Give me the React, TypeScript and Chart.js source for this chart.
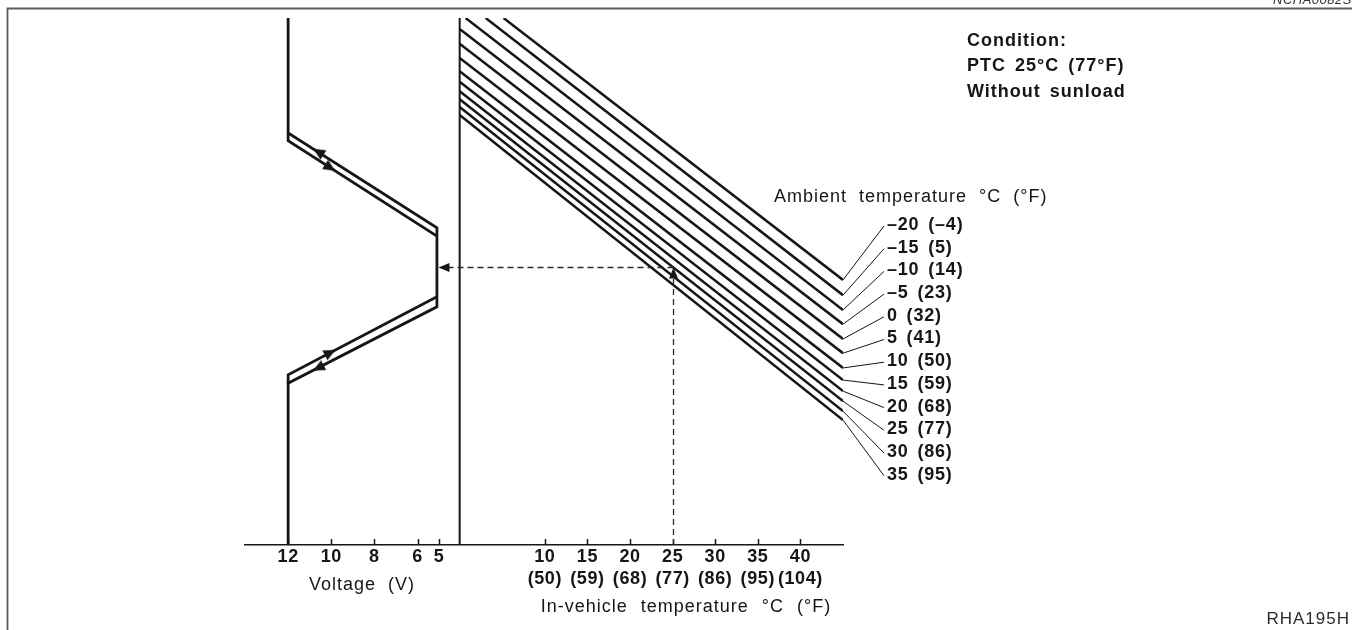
import React, { useEffect, useRef } from "react";
import { Chart, registerables } from "chart.js";

Chart.register(...registerables);

const FONT = "'Liberation Sans', Arial, Helvetica, sans-serif";
const INK = "#161616";

// ---- Axis tick labels ----
const voltageTicks = [12, 10, 8, 6, 5];
const inVehicleTicksC = [10, 15, 20, 25, 30, 35, 40];
const inVehicleTicksF = ["(50)", "(59)", "(68)", "(77)", "(86)", "(95)", "(104)"];

// ---- Ambient temperature lines (in-vehicle °C  ->  level) ----
const ambientLabels = [
  "–20 (–4)", "–15 (5)", "–10 (14)", "–5 (23)", "0 (32)", "5 (41)",
  "10 (50)", "15 (59)", "20 (68)", "25 (77)", "30 (86)", "35 (95)",
];
const ambientStartC = [5.15, 3.05, 0.7, 0, 0, 0, 0, 0, 0, 0, 0, 0];
const ambientStartLevel = [100, 100, 100, 97.9, 95.1, 92.4, 89.9, 87.9, 86.1, 84.6, 83.1, 81.6];
const ambientEndC = [45, 45, 45, 45, 45, 45, 45, 45, 45, 45, 45, 45];
const ambientEndLevel = [50.3, 47.4, 44.6, 41.9, 39.1, 36.4, 33.6, 31.3, 29.2, 27.3, 25.4, 23.7];

// ---- Fan voltage hysteresis (voltage V -> level) ----
const fanOuterV = [12, 12, 5.1, 5.1, 12, 12];
const fanOuterLevel = [100, 78.2, 60.2, 45.2, 30.7, 0];
const fanUpperInnerV = [12, 12, 5.1];
const fanUpperInnerLevel = [78.2, 76.7, 58.6];
const fanLowerInnerV = [5.1, 12, 12];
const fanLowerInnerLevel = [47.1, 32.3, 30.7];
const arrowV = [10.6, 10.05, 10.05, 10.6];
const arrowLevel = [74.6, 71.6, 36.5, 33.6];
const arrowAngle = [-57.5, 122.5, 62.4, 242.4];

// ---- Example reading ----
const exampleInVehicleC = 25;
const exampleAmbientIndex = 9;
const exampleVoltage = 5.1;

const conditionLines = ["Condition:", "PTC 25°C (77°F)", "Without sunload"];

function drawText(ctx: any, s: string, x: number, y: number, o: any) {
  ctx.save();
  ctx.font = `${o.style || "normal"} ${o.weight || "normal"} ${o.size}px ${FONT}`;
  ctx.fillStyle = o.color || INK;
  ctx.textAlign = o.align || "left";
  ctx.textBaseline = o.baseline || "middle";
  ctx.letterSpacing = (o.ls ?? 1) + "px";
  ctx.wordSpacing = (o.ws ?? 0) + "px";
  ctx.fillText(s, x, y);
  ctx.restore();
}

function arrowHead(ctx: any, tx: number, ty: number, dx: number, dy: number, len: number, half: number) {
  const bx = tx - dx * len;
  const by = ty - dy * len;
  const px = -dy;
  const py = dx;
  ctx.beginPath();
  ctx.moveTo(tx, ty);
  ctx.lineTo(bx + px * half, by + py * half);
  ctx.lineTo(bx - px * half, by - py * half);
  ctx.closePath();
  ctx.fill();
}

function makeArrowCanvas(len: number, width: number) {
  const c = document.createElement("canvas");
  c.width = width;
  c.height = len;
  const g = c.getContext("2d")!;
  g.fillStyle = INK;
  g.beginPath();
  g.moveTo(width / 2, 0);
  g.lineTo(width, len);
  g.lineTo(0, len);
  g.closePath();
  g.fill();
  return c;
}

const overlayPlugin = {
  id: "overlay",
  beforeDraw(chart: any) {
    chart.ctx.letterSpacing = "0.6px";
  },
  afterDraw(chart: any) {
    const ctx = chart.ctx;
    ctx.letterSpacing = "0px";
    const xT = chart.scales.xT;
    const xV = chart.scales.xV;
    const y = chart.scales.y;
    const base = xT.top;

    // frame
    ctx.save();
    ctx.strokeStyle = "#5c5c5c";
    ctx.lineWidth = 1.8;
    ctx.beginPath();
    ctx.moveTo(7.5, 630);
    ctx.lineTo(7.5, 8.5);
    ctx.lineTo(1352, 8.5);
    ctx.stroke();
    ctx.restore();
    drawText(ctx, "NCHA0082S0", 1273, 4, { size: 13, style: "italic", baseline: "alphabetic", ls: 0.5, color: "#333" });

    // inward tick marks
    ctx.save();
    ctx.strokeStyle = INK;
    ctx.lineWidth = 1.5;
    ctx.beginPath();
    xT.ticks.forEach((t: any) => {
      const px = Math.round(xT.getPixelForValue(t.value)) + 0.5;
      ctx.moveTo(px, base);
      ctx.lineTo(px, base - 6);
    });
    voltageTicks.forEach((v) => {
      const px = Math.round(xV.getPixelForValue(v)) + 0.5;
      ctx.moveTo(px, base);
      ctx.lineTo(px, base - 6);
    });
    ctx.stroke();
    ctx.restore();

    // voltage tick labels and title
    voltageTicks.forEach((v) => {
      drawText(ctx, String(v), xV.getPixelForValue(v), base + 12, { size: 18, weight: "bold", align: "center", ls: 0.6 });
    });
    drawText(ctx, "Voltage (V)", 362, base + 40, { size: 18, align: "center", ls: 1, ws: 6 });
    drawText(ctx, "In-vehicle temperature °C (°F)", 686, base + 62, { size: 18, align: "center", ls: 1, ws: 7 });

    // ambient legend with leader lines
    drawText(ctx, "Ambient temperature °C (°F)", 774, 197, { size: 18, ls: 1, ws: 6 });
    ambientLabels.forEach((lab, i) => {
      const ly = 225 + i * 22.7;
      const ex = xT.getPixelForValue(ambientEndC[i]);
      const ey = y.getPixelForValue(ambientEndLevel[i]);
      ctx.save();
      ctx.strokeStyle = INK;
      ctx.lineWidth = 1;
      ctx.beginPath();
      ctx.moveTo(ex, ey);
      ctx.lineTo(884, ly + 1);
      ctx.stroke();
      ctx.restore();
      drawText(ctx, lab, 887, ly, { size: 18, weight: "bold", ls: 0.8, ws: 3 });
    });

    // condition block
    conditionLines.forEach((s, i) => {
      drawText(ctx, s, 967, 41 + i * 25.5, { size: 18, weight: "bold", ls: 1, ws: 3 });
    });
    drawText(ctx, "RHA195H", 1350, 619, { size: 17, align: "right", ls: 1, color: "#2a2a2a" });

    // example reading: dashed pointer
    const i = exampleAmbientIndex;
    const frac = (exampleInVehicleC - ambientStartC[i]) / (ambientEndC[i] - ambientStartC[i]);
    const level = ambientStartLevel[i] + (ambientEndLevel[i] - ambientStartLevel[i]) * frac;
    const py = Math.round(y.getPixelForValue(level)) + 0.5;
    const px25 = Math.round(xT.getPixelForValue(exampleInVehicleC)) + 0.5;
    const pxV = xV.getPixelForValue(exampleVoltage) + 1.5;
    ctx.save();
    ctx.strokeStyle = "#2a2a2a";
    ctx.fillStyle = INK;
    ctx.lineWidth = 1.3;
    ctx.setLineDash([6, 4]);
    ctx.beginPath();
    ctx.moveTo(px25, py);
    ctx.lineTo(pxV + 10, py);
    ctx.moveTo(px25, base);
    ctx.lineTo(px25, py + 10);
    ctx.stroke();
    ctx.setLineDash([]);
    arrowHead(ctx, pxV, py, -1, 0, 11, 4.5);
    arrowHead(ctx, px25, py, 0, -1, 11, 4.5);
    ctx.restore();
  },
};

export default function App() {
  const ref = useRef<HTMLCanvasElement | null>(null);

  useEffect(() => {
    if (!ref.current) return;
    const arrowImg = makeArrowCanvas(12, 11);
    const datasets: any[] = [];

    ambientLabels.forEach((lab, i) => {
      datasets.push({
        label: lab,
        xAxisID: "xT",
        yAxisID: "y",
        data: [
          { x: ambientStartC[i], y: ambientStartLevel[i] },
          { x: ambientEndC[i], y: ambientEndLevel[i] },
        ],
        showLine: true,
        borderColor: INK,
        borderWidth: 2.5,
        pointRadius: 0,
      });
    });

    datasets.push({
      label: "separator",
      xAxisID: "xT",
      yAxisID: "y",
      data: [{ x: 0, y: 0 }, { x: 0, y: 100 }],
      showLine: true,
      borderColor: INK,
      borderWidth: 2,
      pointRadius: 0,
    });

    const fanSets = [
      [fanOuterV, fanOuterLevel],
      [fanUpperInnerV, fanUpperInnerLevel],
      [fanLowerInnerV, fanLowerInnerLevel],
    ];
    fanSets.forEach(([vs, ls], k) => {
      datasets.push({
        label: "fan" + k,
        xAxisID: "xV",
        yAxisID: "y",
        data: vs.map((v, j) => ({ x: v, y: ls[j] })),
        showLine: true,
        borderColor: INK,
        borderWidth: 2.8,
        borderJoinStyle: "miter",
        pointRadius: 0,
      });
    });

    datasets.push({
      label: "arrows",
      xAxisID: "xV",
      yAxisID: "y",
      data: arrowV.map((v, j) => ({ x: v, y: arrowLevel[j] })),
      showLine: false,
      pointStyle: arrowImg,
      pointRotation: arrowAngle,
      pointRadius: 6,
    });

    const chart = new Chart(ref.current, {
      type: "scatter",
      data: { datasets },
      options: {
        responsive: false,
        animation: false,
        events: [],
        layout: { padding: { left: 245, right: 1352 - 843, top: 18, bottom: 0 } },
        plugins: { legend: { display: false }, tooltip: { enabled: false } },
        scales: {
          xT: {
            type: "linear",
            position: "bottom",
            min: -25.2,
            max: 45,
            afterBuildTicks: (s: any) => {
              s.ticks = inVehicleTicksC.map((v) => ({ value: v }));
            },
            afterFit: (s: any) => {
              s.height = 85;
            },
            grid: { display: false, drawTicks: false },
            border: { display: true, color: INK, width: 1.5 },
            ticks: {
              autoSkip: false,
              maxRotation: 0,
              padding: 1,
              color: INK,
              font: { family: FONT, size: 18, weight: "bold", lineHeight: 1.22 },
              callback: (_v: any, idx: number) => [String(inVehicleTicksC[idx]), inVehicleTicksF[idx]],
            },
          },
          xV: {
            type: "linear",
            display: false,
            reverse: true,
            min: -13.73,
            max: 14,
          },
          y: {
            type: "linear",
            display: false,
            min: 0,
            max: 100,
          },
        },
      } as any,
      plugins: [overlayPlugin],
    });
    return () => chart.destroy();
  }, []);

  return (
    <div style={{ position: "fixed", left: 0, top: 0, width: 1352, height: 630, background: "#fff" }}>
      <canvas ref={ref} width={1352} height={630} style={{ display: "block", width: 1352, height: 630 }} />
    </div>
  );
}
